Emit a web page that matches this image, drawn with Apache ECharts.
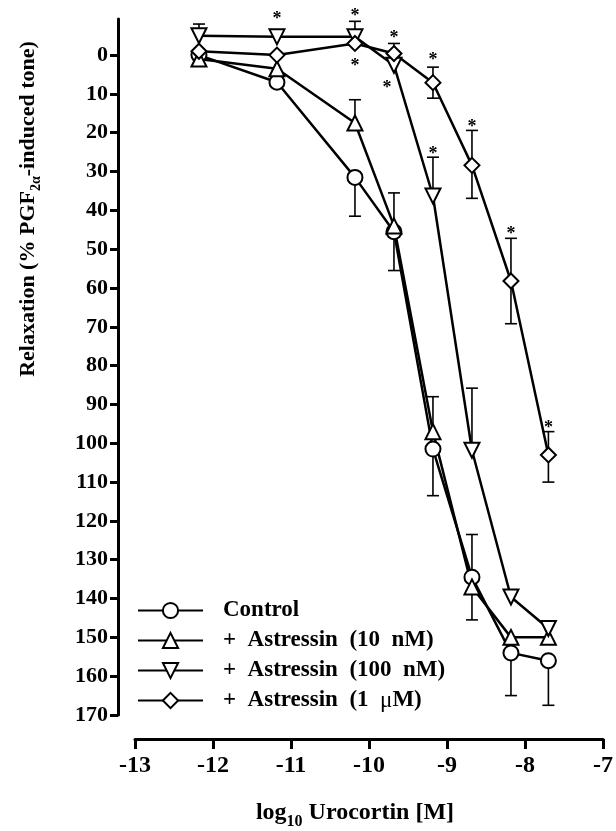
<!DOCTYPE html>
<html><head><meta charset="utf-8">
<script src="https://cdn.jsdelivr.net/npm/echarts@6/dist/echarts.min.js"></script>
<style>html,body{margin:0;padding:0;background:#fff}#c{width:616px;height:831px}</style>
</head><body><div id="c"></div>
<script>
// ---- data ----
const logConc = [-12.18, -11.18, -10.18, -9.68, -9.18, -8.68, -8.18, -7.7];
const control = [0, 7, 31.5, 45.5, 101.5, 134.5, 154, 156];
const astr10 = [1, 3.5, 17.5, 44, 97, 137, 150, 150];
const astr100 = [-5, -4.7, -4.7, 2.6, 36.3, 101.8, 139.6, 147.7];
const astr1u = [-1, 0, -3, -0.4, 7.1, 28.4, 58.2, 103];
// error bars: minus = toward smaller values (drawn upward), plus = toward larger values (drawn downward)
const controlErrMinus = [0, 0, 0, 10, 0, 11, 0, 0];
const controlErrPlus = [0, 0, 10, 10, 12, 11, 11, 11.5];
const astr10ErrMinus = [0, 0, 6, 0, 9, 0, 0, 0];
const astr10ErrPlus = [0, 0, 0, 0, 0, 0, 0, 0];
const astr100ErrMinus = [3, 0, 4, 0, 10, 16, 0, 0];
const astr100ErrPlus = [0, 0, 0, 0, 0, 0, 0, 0];
const astr1uErrMinus = [0, 0, 0, 2.6, 4, 9, 11, 6];
const astr1uErrPlus = [0, 0, 0, 0, 4, 8.5, 11, 7];
// significance asterisks
const starX = [-11.18, -10.18, -10.18, -9.68, -9.77, -9.18, -9.18, -8.68, -8.18, -7.7];
const starY = [-9.9, -10.7, 2.1, -5.2, 7.7, 0.6, 24.7, 17.8, 45.5, 95.5];
const yTicks = [0, 10, 20, 30, 40, 50, 60, 70, 80, 90, 100, 110, 120, 130, 140, 150, 160, 170];
const xTicks = [-13, -12, -11, -10, -9, -8, -7];
const seriesNames = ['Control', '+  Astressin  (10  nM)', '+  Astressin  (100  nM)', '+  Astressin  (1  μM)'];

// ---- build ----
const FONT = "'Liberation Serif', 'Times New Roman', serif";
const values = [control, astr10, astr100, astr1u];
const errMinus = [controlErrMinus, astr10ErrMinus, astr100ErrMinus, astr1uErrMinus];
const errPlus = [controlErrPlus, astr10ErrPlus, astr100ErrPlus, astr1uErrPlus];
const symbols = ['circle', 'triangle', 'path://M0,0 L10,0 L5,9 Z', 'diamond'];

const series = [];
values.forEach((vals, si) => {
  series.push({
    name: seriesNames[si], type: 'line', z: 3,
    data: logConc.map((x, i) => [x, vals[i]]),
    symbol: symbols[si], symbolSize: 15, showAllSymbol: true,
    lineStyle: { color: '#000', width: 2.5 },
    itemStyle: { color: '#fff', borderColor: '#000', borderWidth: 2 },
    emphasis: { disabled: true }
  });
});
const errData = [];
values.forEach((vals, si) => {
  logConc.forEach((x, i) => {
    errData.push([x, vals[i], errMinus[si][i], errPlus[si][i]]);
  });
});
series.push({
  type: 'custom', z: 1, silent: true,
  data: errData,
  renderItem: function (params, api) {
    const x = api.value(0), y = api.value(1), m = api.value(2), p = api.value(3);
    const c = api.coord([x, y]);
    const children = [];
    const cap = 6;
    [[m, -1], [p, 1]].forEach(([e, s]) => {
      if (e > 0) {
        const end = api.coord([x, y + s * e]);
        children.push({ type: 'line', shape: { x1: c[0], y1: c[1], x2: end[0], y2: end[1] }, style: { stroke: '#000', lineWidth: 1.6 } });
        children.push({ type: 'line', shape: { x1: end[0] - cap, y1: end[1], x2: end[0] + cap, y2: end[1] }, style: { stroke: '#000', lineWidth: 1.6 } });
      }
    });
    return { type: 'group', children: children };
  }
});
series.push({
  type: 'custom', z: 4, silent: true,
  data: starX.map((x, i) => [x, starY[i]]),
  renderItem: function (params, api) {
    const c = api.coord([api.value(0), api.value(1)]);
    return { type: 'text', x: c[0], y: c[1] + 3, style: { text: '*', fontSize: 18, fontWeight: 'bold', fontFamily: FONT, fill: '#000', align: 'center', verticalAlign: 'middle' } };
  }
});

const chart = echarts.init(document.getElementById('c'), null, { renderer: 'canvas' });
chart.setOption({
  animation: false,
  backgroundColor: '#fff',
  grid: { left: 135, right: 11, top: 19, bottom: 116 },
  xAxis: {
    type: 'value', min: xTicks[0], max: xTicks[xTicks.length - 1], interval: 1, offset: 24,
    axisLine: { show: true, onZero: false, lineStyle: { color: '#000', width: 3 } },
    axisTick: { show: true, length: 10, lineStyle: { color: '#000', width: 3 } },
    axisLabel: { color: '#000', fontFamily: FONT, fontWeight: 'bold', fontSize: 24, margin: 15 },
    splitLine: { show: false }
  },
  yAxis: {
    type: 'value', inverse: true, min: -9.3, max: 170, offset: 17,
    axisLine: { show: true, onZero: false, lineStyle: { color: '#000', width: 3 } },
    axisTick: { show: true, length: 8, lineStyle: { color: '#000', width: 3 }, customValues: yTicks },
    axisLabel: { color: '#000', fontFamily: FONT, fontWeight: 'bold', fontSize: 22, margin: 10, customValues: yTicks },
    splitLine: { show: false }
  },
  legend: {
    orient: 'vertical', left: 137, top: 599, padding: 0, itemWidth: 65, itemHeight: 19, itemGap: 7,
    data: seriesNames,
    formatter: function (name) { return name.replace('μ', '{mu|μ}'); },
    textStyle: { color: '#000', fontFamily: FONT, fontWeight: 'bold', fontSize: 23, lineHeight: 20, padding: [0, 0, 0, 15],
      rich: { mu: { fontFamily: FONT, fontWeight: 'normal', fontSize: 23, color: '#000', lineHeight: 20 } } },
    selectedMode: false
  },
  graphic: [
    { type: 'text', x: 32, y: 209, rotation: Math.PI / 2,
      style: { text: '{a|Relaxation (% PGF}{s|2α}{a|-induced tone)}', align: 'center', verticalAlign: 'middle',
        rich: {
          a: { fontFamily: FONT, fontWeight: 'bold', fontSize: 22, lineHeight: 22, verticalAlign: 'bottom', padding: [0, 0, 4, 0], fill: '#000' },
          s: { fontFamily: FONT, fontWeight: 'bold', fontSize: 14, lineHeight: 14, verticalAlign: 'bottom', fill: '#000' }
        } } },
    { type: 'text', x: 355, y: 818,
      style: { text: '{a|log}{s|10}{a| Urocortin [M]}', align: 'center', verticalAlign: 'middle',
        rich: {
          a: { fontFamily: FONT, fontWeight: 'bold', fontSize: 24, lineHeight: 24, verticalAlign: 'bottom', padding: [0, 0, 5, 0], fill: '#000' },
          s: { fontFamily: FONT, fontWeight: 'bold', fontSize: 16, lineHeight: 16, verticalAlign: 'bottom', fill: '#000' }
        } } }
  ],
  series: series
});
</script></body></html>
